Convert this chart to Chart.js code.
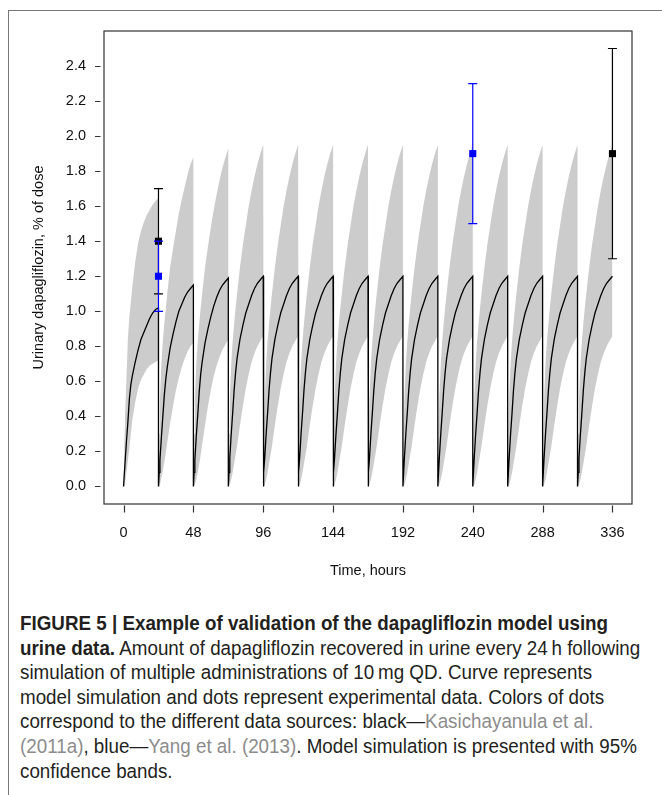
<!DOCTYPE html>
<html>
<head>
<meta charset="utf-8">
<script src="https://cdn.jsdelivr.net/npm/chart.js@4.4.1/dist/chart.umd.min.js"></script>
<style>
  body { margin: 0; background: #fff; width: 662px; height: 795px; overflow: hidden; position: relative; }
  #frame { position: absolute; left: 8px; top: 10px; width: 700px; height: 800px; border-left: 1px solid #777; border-top: 1px solid #777; }
  #chartBox { position: absolute; left: 0; top: 0; width: 662px; height: 600px; }
  #caption { position: absolute; left: 20px; top: 611px; font-family: "Liberation Sans", Arial, sans-serif; font-size: 20.5px; line-height: 24.6px; color: #231f20; white-space: nowrap; transform: scaleX(0.917); transform-origin: 0 0; }
  #caption .ref { color: #8c8c8c; }
</style>
</head>
<body>
<div id="frame"></div>
<div id="chartBox"><canvas id="myChart" width="662" height="600"></canvas></div>
<div id="caption">
  <b>FIGURE 5 | Example of validation of the dapagliflozin model using</b><br>
  <b>urine data.</b> Amount of dapagliflozin recovered in urine every 24&thinsp;h following<br>
  simulation of multiple administrations of 10&thinsp;mg QD. Curve represents<br>
  model simulation and dots represent experimental data. Colors of dots<br>
  correspond to the different data sources: black—<span class="ref">Kasichayanula et al.</span><br>
  <span class="ref">(2011a)</span>, blue—<span class="ref">Yang et al. (2013)</span>. Model simulation is presented with 95%<br>
  confidence bands.
</div>
<script>
// axes
const xTicks = [0, 48, 96, 144, 192, 240, 288, 336];
const yTicks = [0, 0.2, 0.4, 0.6, 0.8, 1.0, 1.2, 1.4, 1.6, 1.8, 2.0, 2.2, 2.4];

// once-daily doses, hours
const doseTimes = [0, 24, 48, 72, 96, 120, 144, 168, 192, 216, 240, 264, 288, 312];
// sample times inside each 24 h collection interval
const relT = [0, 0.5, 1, 2, 3, 4, 5, 6, 8, 10, 12, 14, 16, 18, 20, 22, 24];

// simulated mean, % of dose (day 1, day 2, day 3, steady state)
const meanD1 = [0, 0.07, 0.13, 0.26, 0.37, 0.50, 0.58, 0.63, 0.71, 0.78, 0.84, 0.88, 0.92, 0.96, 0.99, 1.01, 1.02];
const meanD2 = [0, 0.08, 0.15, 0.28, 0.40, 0.52, 0.61, 0.68, 0.79, 0.87, 0.94, 1.00, 1.04, 1.08, 1.11, 1.13, 1.15];
const meanD3 = [0, 0.08, 0.15, 0.29, 0.41, 0.54, 0.64, 0.71, 0.82, 0.90, 0.97, 1.03, 1.08, 1.12, 1.15, 1.17, 1.19];
const meanSS = [0, 0.08, 0.16, 0.30, 0.42, 0.55, 0.65, 0.73, 0.84, 0.92, 0.99, 1.04, 1.09, 1.13, 1.16, 1.18, 1.20];

// 95% band, upper
const upD1 = [0, 0.22, 0.40, 0.62, 0.85, 0.97, 1.05, 1.14, 1.28, 1.39, 1.46, 1.51, 1.55, 1.58, 1.61, 1.63, 1.65];
const upD2 = [0, 0.30, 0.50, 0.70, 0.83, 0.93, 1.01, 1.10, 1.25, 1.36, 1.46, 1.56, 1.64, 1.71, 1.78, 1.84, 1.88];
const upD3 = [0, 0.30, 0.50, 0.70, 0.83, 0.93, 1.02, 1.10, 1.25, 1.37, 1.48, 1.58, 1.67, 1.75, 1.82, 1.88, 1.93];
const upSS = [0, 0.30, 0.50, 0.70, 0.83, 0.93, 1.02, 1.10, 1.25, 1.38, 1.49, 1.60, 1.69, 1.77, 1.84, 1.90, 1.95];

// 95% band, lower
const loD1 = [0, 0, 0.02, 0.08, 0.15, 0.22, 0.30, 0.38, 0.48, 0.56, 0.61, 0.64, 0.67, 0.69, 0.70, 0.71, 0.72];
const loD2 = [0, 0, 0.01, 0.05, 0.09, 0.14, 0.19, 0.25, 0.36, 0.46, 0.55, 0.62, 0.68, 0.73, 0.77, 0.80, 0.82];
const loD3 = [0, 0, 0.01, 0.04, 0.08, 0.13, 0.18, 0.24, 0.35, 0.46, 0.55, 0.63, 0.69, 0.74, 0.78, 0.81, 0.84];
const loSS = [0, 0, 0.01, 0.04, 0.08, 0.13, 0.18, 0.23, 0.35, 0.46, 0.56, 0.64, 0.71, 0.76, 0.80, 0.83, 0.86];

// observed data: Kasichayanula et al. (black), Yang et al. (blue)
const blackT = [24, 336];
const blackY = [1.4, 1.9];
const blackLo = [1.1, 1.3];
const blackHi = [1.7, 2.5];
const blueT = [24, 240];
const blueY = [1.2, 1.9];
const blueLo = [1.0, 1.5];
const blueHi = [1.4, 2.3];

function pick(k, d1, d2, d3, ss) {
    if (k === 0) return d1;
    if (k === 1) return d2;
    if (k === 2) return d3;
    return ss;
}

let meanPts = [], upPts = [], loPts = [];
doseTimes.forEach(function (t0, k) {
    const m = pick(k, meanD1, meanD2, meanD3, meanSS);
    const u = pick(k, upD1, upD2, upD3, upSS);
    const l = pick(k, loD1, loD2, loD3, loSS);
    relT.forEach(function (r, i) {
        meanPts.push({x: t0 + r, y: m[i]});
        upPts.push({x: t0 + r, y: u[i]});
        loPts.push({x: t0 + r, y: l[i]});
    });
});

const toPts = (t, y) => t.map((v, i) => ({x: v, y: y[i]}));

// error bars drawn just before their marker dataset
const errorBars = {
    id: 'errorBars',
    beforeDatasetDraw(chart, args) {
        const ds = chart.data.datasets[args.index];
        if (!ds.errLo) return;
        const ctx = chart.ctx, xs = chart.scales.x, ys = chart.scales.y;
        ctx.save();
        ctx.strokeStyle = ds.backgroundColor;
        ctx.lineWidth = 1.2;
        ds.data.forEach(function (p, i) {
            const px = xs.getPixelForValue(p.x);
            const lo = ys.getPixelForValue(ds.errLo[i]);
            const hi = ys.getPixelForValue(ds.errHi[i]);
            ctx.beginPath();
            ctx.moveTo(px, lo); ctx.lineTo(px, hi);
            ctx.moveTo(px - 4.5, lo); ctx.lineTo(px + 4.5, lo);
            ctx.moveTo(px - 4.5, hi); ctx.lineTo(px + 4.5, hi);
            ctx.stroke();
        });
        ctx.restore();
    }
};

// R-like box and detached tick marks
const boxAxes = {
    id: 'boxAxes',
    afterDraw(chart) {
        const ctx = chart.ctx, a = chart.chartArea;
        ctx.save();
        ctx.strokeStyle = '#333';
        ctx.lineWidth = 1.2;
        ctx.strokeRect(a.left, a.top, a.right - a.left, a.bottom - a.top);
        ctx.beginPath();
        chart.scales.y.ticks.forEach(function (t) {
            const py = Math.round(chart.scales.y.getPixelForValue(t.value)) + 0.5;
            ctx.moveTo(a.left - 9, py); ctx.lineTo(a.left - 3.5, py);
        });
        chart.scales.x.ticks.forEach(function (t) {
            const px = Math.round(chart.scales.x.getPixelForValue(t.value)) + 0.5;
            ctx.moveTo(px, a.bottom + 1.5); ctx.lineTo(px, a.bottom + 8.5);
        });
        ctx.stroke();
        ctx.restore();
    }
};

const font = {family: "'Liberation Sans', Arial, sans-serif", size: 14.5};

let myChart = new Chart(document.getElementById('myChart').getContext('2d'), {
    type: 'line',
    data: {
        datasets: [{
            data: upPts,
            borderWidth: 0,
            pointRadius: 0,
            backgroundColor: '#cccccc',
            fill: '+1',
            order: 4
        }, {
            data: loPts,
            borderWidth: 0,
            pointRadius: 0,
            fill: false,
            order: 4
        }, {
            data: meanPts,
            borderColor: '#000',
            borderWidth: 1.3,
            pointRadius: 0,
            fill: false,
            order: 3
        }, {
            data: toPts(blackT, blackY),
            errLo: blackLo,
            errHi: blackHi,
            showLine: false,
            pointStyle: 'rect',
            pointRadius: 5,
            borderWidth: 0,
            backgroundColor: '#000000',
            order: 2
        }, {
            data: toPts(blueT, blueY),
            errLo: blueLo,
            errHi: blueHi,
            showLine: false,
            pointStyle: 'rect',
            pointRadius: 5,
            borderWidth: 0,
            backgroundColor: '#0000ff',
            order: 1
        }]
    },
    options: {
        responsive: false,
        animation: false,
        devicePixelRatio: 1,
        layout: {padding: {left: 0, top: 31, right: 30, bottom: 0}},
        elements: {line: {tension: 0}},
        plugins: {legend: {display: false}, tooltip: {enabled: false}},
        scales: {
            x: {
                type: 'linear',
                min: -13.44,
                max: 349.44,
                afterBuildTicks: s => { s.ticks = xTicks.map(v => ({value: v})); },
                afterFit: s => { s.height = 96; },
                grid: {display: false, drawTicks: false},
                border: {display: false},
                ticks: {font: font, color: '#111', padding: 20, maxRotation: 0},
                title: {display: true, text: 'Time, hours', font: font, color: '#111', padding: {top: 0, bottom: 20}}
            },
            y: {
                min: -0.1,
                max: 2.6,
                afterBuildTicks: s => { s.ticks = yTicks.map(v => ({value: v})); },
                afterFit: s => { s.width = 104; },
                grid: {display: false, drawTicks: false},
                border: {display: false},
                ticks: {font: font, color: '#111', padding: 18, callback: v => v.toFixed(1)},
                title: {display: true, text: 'Urinary dapagliflozin, % of dose', font: font, color: '#111', padding: {top: 30, bottom: 0}}
            }
        }
    },
    plugins: [errorBars, boxAxes]
});
</script>
</body>
</html>
